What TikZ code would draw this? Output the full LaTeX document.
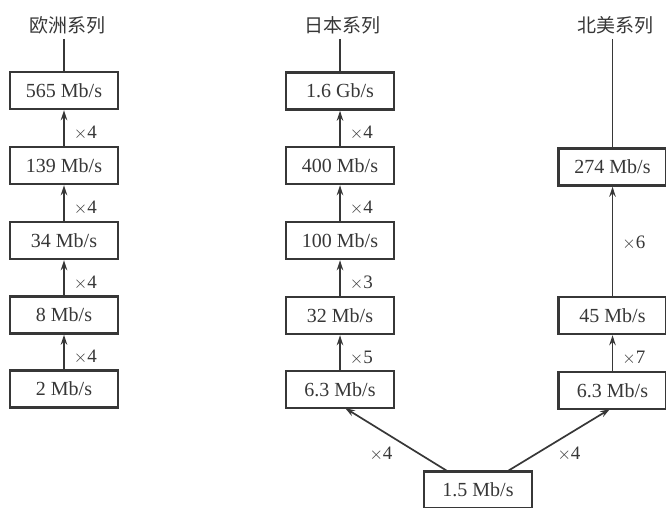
\documentclass[tikz,border=0pt]{standalone}
\usepackage{fontspec}
\setmainfont{Liberation Serif}
\newfontfamily\cjk{Noto Sans CJK SC}
\usetikzlibrary{arrows.meta}
\definecolor{ink}{RGB}{55,55,55}
\tikzset{
  rate/.style={draw=ink, line width=2.4pt, text=ink, minimum width=108pt, minimum height=37pt, inner sep=0pt, font=\fontsize{20}{22}\selectfont},
  title/.style={text=ink, inner sep=0pt, font=\cjk\fontsize{19}{21}\selectfont},
  up/.style={draw=ink, line width=1.7pt, -{Stealth[length=10pt,width=6.5pt]}},
  plain/.style={draw=ink, line width=1.7pt},
  mul/.style={text=ink, inner sep=0pt, font=\fontsize{19}{21}\selectfont},
}
\begin{document}
\begin{tikzpicture}[x=1pt,y=-1pt]
\useasboundingbox (0,0) rectangle (666,508);
% Europe
\node[title] (te) at (67,25) {欧洲系列};
\node[rate] (e5) at (64,90.5) {565 Mb/s};
\node[rate] (e4) at (64,165.5) {139 Mb/s};
\node[rate] (e3) at (64,240.5) {34 Mb/s};
\node[rate] (e2) at (64,315) {8 Mb/s};
\node[rate] (e1) at (64,389) {2 Mb/s};
\coordinate (ce) at (64,39);
\draw[plain] (ce) -- (e5.north);
\draw[up] (e4) -- node[mul, right=9pt, yshift=-5pt] {$\times$4} (e5);
\draw[up] (e3) -- node[mul, right=9pt, yshift=-5pt] {$\times$4} (e4);
\draw[up] (e2) -- node[mul, right=9pt, yshift=-5pt] {$\times$4} (e3);
\draw[up] (e1) -- node[mul, right=9pt, yshift=-5pt] {$\times$4} (e2);
% Japan
\node[title] (tj) at (342,25) {日本系列};
\node[rate] (j5) at (340,91) {1.6 Gb/s};
\node[rate] (j4) at (340,165.5) {400 Mb/s};
\node[rate] (j3) at (340,240.5) {100 Mb/s};
\node[rate] (j2) at (340,315.5) {32 Mb/s};
\node[rate] (j1) at (340,389.5) {6.3 Mb/s};
\coordinate (cj) at (340,39);
\draw[plain] (cj) -- (j5.north);
\draw[up] (j4) -- node[mul, right=9pt, yshift=-5pt] {$\times$4} (j5);
\draw[up] (j3) -- node[mul, right=9pt, yshift=-5pt] {$\times$4} (j4);
\draw[up] (j2) -- node[mul, right=9pt, yshift=-5pt] {$\times$3} (j3);
\draw[up] (j1) -- node[mul, right=9pt, yshift=-5pt] {$\times$5} (j2);
% North America
\node[title] (tn) at (615,25) {北美系列};
\node[rate] (n3) at (612.5,167) {274 Mb/s};
\node[rate] (n2) at (612.5,315.5) {45 Mb/s};
\node[rate] (n1) at (612.5,390.5) {6.3 Mb/s};
\coordinate (cn) at (612.5,39);
\draw[plain] (cn) -- (n3.north);
\draw[up] (n2) -- node[mul, right=9pt, yshift=-2pt] {$\times$6} (n3);
\draw[up] (n1) -- node[mul, right=9pt, yshift=-5pt] {$\times$7} (n2);
% Base
\node[rate] (b) at (478,490) {1.5 Mb/s};
\coordinate (bl) at (448,471.5);
\coordinate (br) at (507,471.5);
\coordinate (jl) at (345,408);
\coordinate (nr) at (610,409);
\draw[up] (bl) -- (jl);
\draw[up] (br) -- (nr);
\node[mul] (ml) at (381,454) {$\times$4};
\node[mul] (mr) at (569,454) {$\times$4};
\end{tikzpicture}
\end{document}
